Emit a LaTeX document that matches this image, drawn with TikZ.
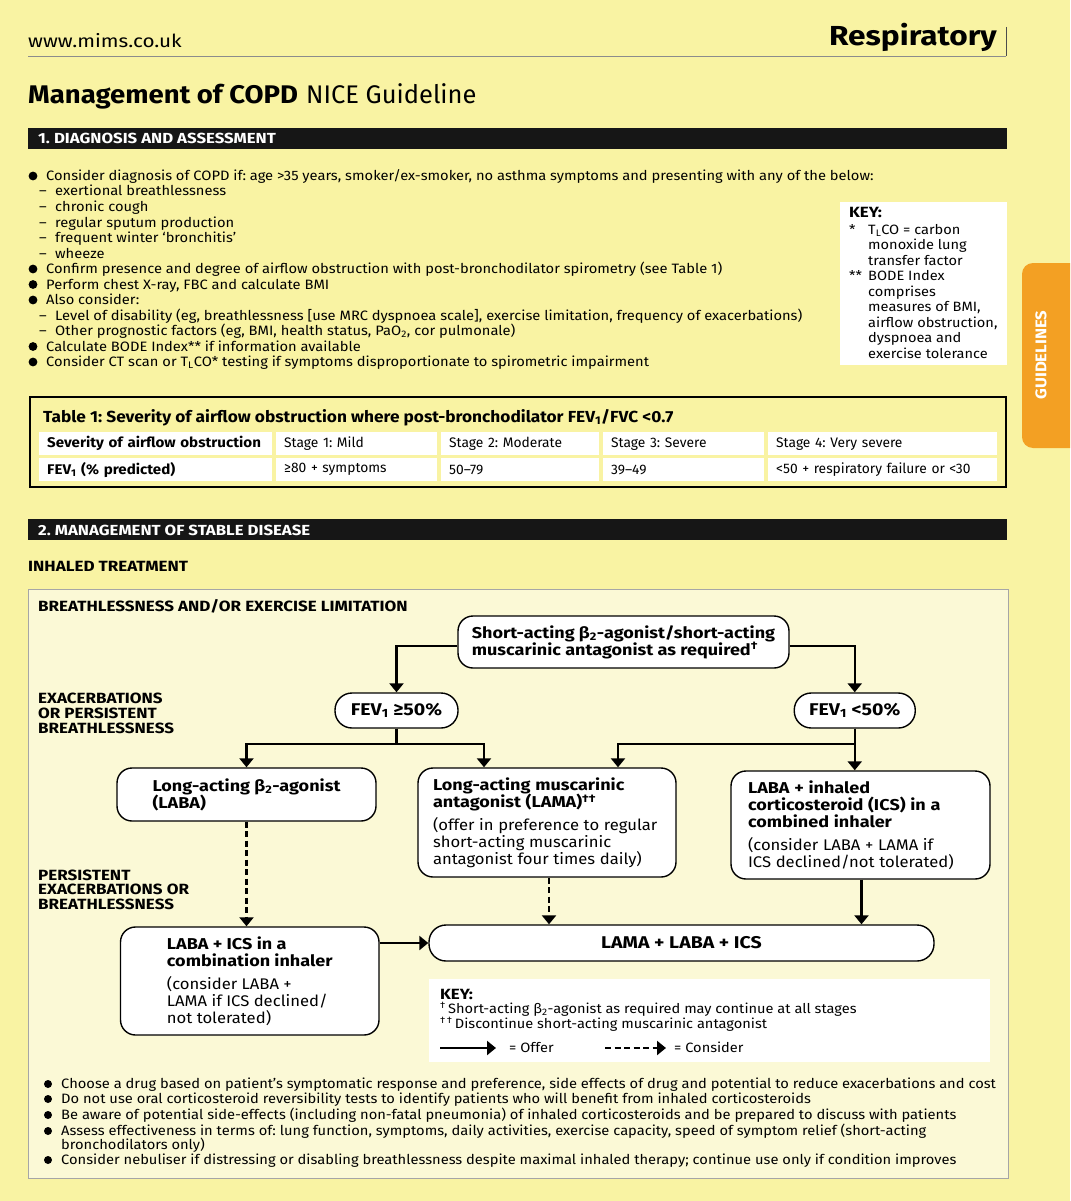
\documentclass[tikz,border=0pt]{standalone}
\usepackage{fontspec}
\setmainfont{Fira Sans}
\newfontfamily\fsA[FakeStretch=1.08]{Fira Sans}
\newfontfamily\fsB[FakeStretch=1.15]{Fira Sans}
\usetikzlibrary{arrows.meta}
\definecolor{pagebg}{RGB}{249,243,163}
\definecolor{innerbg}{RGB}{251,249,214}
\definecolor{tabor}{RGB}{243,160,35}
\definecolor{barblack}{RGB}{22,22,22}
\newcommand{\nbold}{\fsB\bfseries\fontsize{15.7}{17}\selectfont}
\newcommand{\nreg}{\fsA\mdseries\fontsize{15.4}{17}\selectfont}
\begin{document}
\frenchspacing
\begin{tikzpicture}[x=1pt,y=-1pt,
  body/.style={anchor=base west,inner sep=0pt,font=\fsA\fontsize{13.6}{15}\selectfont},
  small/.style={anchor=base west,inner sep=0pt,font=\fsA\fontsize{13.5}{15}\selectfont},
  bottomtxt/.style={anchor=base west,inner sep=0pt,font=\fsA\fontsize{13.6}{15}\selectfont},
  hdr/.style={anchor=base west,inner sep=0pt,font=\fsB\bfseries\fontsize{14.8}{15}\selectfont},
  bartxt/.style={anchor=base west,inner sep=0pt,text=white,font=\fsB\bfseries\fontsize{14.6}{15}\selectfont},
  fbox/.style={draw=black,line width=1.4pt,rounded corners=15pt,fill=white,inner sep=0pt,align=left,font=\fontsize{14}{17}\selectfont},
  pill/.style={fbox,rounded corners=17pt},
  cell/.style={fill=white,anchor=north west,minimum height=23pt,inner xsep=8pt,inner ysep=0pt,align=left,font=\fontsize{13.8}{15}\selectfont},
  boldcell/.style={cell,font=\fsA\bfseries\fontsize{14}{15}\selectfont},
  conn/.style={line width=2.4pt,-{Triangle[width=14pt,length=9pt]}},
  dconn/.style={conn,dash pattern=on 6pt off 3.5pt},
  bul/.style={fill=black}
]
\useasboundingbox (0,0) rectangle (1070,1201);
\fill[pagebg] (0,0) rectangle (1070,1201);

% header
\node[anchor=base west,inner sep=0pt,font=\fsB\fontsize{18}{20}\selectfont] (site) at (28,48) {www.mims.co.uk};
\node[anchor=base east,inner sep=0pt,font=\fsB\bfseries\fontsize{27.5}{30}\selectfont] (resp) at (997,46) {Respiratory};
\draw[black!70,line width=0.8pt] (1006,27) -- (1006,56);
\draw[black!45,line width=1pt] (28,57) -- (1006,57);
\node[anchor=base west,inner sep=0pt,font=\fontsize{25.5}{28}\selectfont] (title) at (28,104) {{\fsA\bfseries Management of COPD}\hspace{8pt}NICE Guideline};

% section 1 bar
\fill[barblack] (28,128) rectangle (1007,149);
\node[bartxt] (s1) at (38,144) {1. DIAGNOSIS AND ASSESSMENT};

% section 1 bullets
\foreach \yy in {176,269,284.5,300,346.5,362} \fill[bul] (33,\yy) circle (4.4pt);
\node[body] (l1) at (46,180.5) {Consider diagnosis of COPD if: age >35 years, smoker/ex-smoker, no asthma symptoms and presenting with any of the below:};
\node[body] (l2) at (39,196) {\makebox[16pt][l]{–}exertional breathlessness};
\node[body] (l3) at (39,211.5) {\makebox[16pt][l]{–}chronic cough};
\node[body] (l4) at (39,227) {\makebox[16pt][l]{–}regular sputum production};
\node[body] (l5) at (39,242.5) {\makebox[16pt][l]{–}frequent winter ‘bronchitis’};
\node[body] (l6) at (39,258) {\makebox[16pt][l]{–}wheeze};
\node[body] (l7) at (46,273.5) {Confirm presence and degree of airflow obstruction with post-bronchodilator spirometry (see Table 1)};
\node[body] (l8) at (46,289) {Perform chest X-ray, FBC and calculate BMI};
\node[body] (l9) at (46,304.5) {Also consider:};
\node[body] (l10) at (39,320) {\makebox[16pt][l]{–}Level of disability (eg, breathlessness [use MRC dyspnoea scale], exercise limitation, frequency of exacerbations)};
\node[body] (l11) at (39,335.5) {\makebox[16pt][l]{–}Other prognostic factors (eg, BMI, health status, PaO\textsubscript{2}, cor pulmonale)};
\node[body] (l12) at (46,351) {Calculate BODE Index** if information available};
\node[body] (l13) at (46,366.5) {Consider CT scan or T\textsubscript{L}CO* testing if symptoms disproportionate to spirometric impairment};

% key box (top right)
\fill[white] (840,202) rectangle (1007,365);
\node[hdr] (k0) at (849,217.5) {KEY:};
\node[small] (k1a) at (849,234) {*};
\node[small] (k1) at (868,234) {T\textsubscript{L}CO = carbon};
\node[small] (k2) at (868,249.5) {monoxide lung};
\node[small] (k3) at (868,265) {transfer factor};
\node[small] (k4a) at (849,280.5) {**};
\node[small] (k4) at (868,280.5) {BODE Index};
\node[small] (k5) at (868,296) {comprises};
\node[small] (k6) at (868,311.5) {measures of BMI,};
\node[small] (k7) at (868,327) {airflow obstruction,};
\node[small] (k8) at (868,342.5) {dyspnoea and};
\node[small] (k9) at (868,358) {exercise tolerance};

% guidelines tab
\begin{scope}
\clip (0,0) rectangle (1070,1201);
\fill[tabor,rounded corners=11pt] (1022,263) rectangle (1100,448);
\end{scope}
\node[rotate=90,text=white,inner sep=0pt,font=\fsA\bfseries\fontsize{15.5}{16}\selectfont] (tab) at (1041,355) {GUIDELINES};

% table 1
\draw[line width=2pt] (30,397) rectangle (1006,487);
\node[anchor=base west,inner sep=0pt,font=\fsA\bfseries\fontsize{16}{16}\selectfont] (ttitle) at (43,422) {Table 1: Severity of airflow obstruction where post-bronchodilator FEV\textsubscript{1}/FVC <0.7};
\node[boldcell,text width=217pt] (c11) at (39,432) {Severity of airflow obstruction};
\node[cell,text width=145pt] (c12) at (276,432) {Stage 1: Mild};
\node[cell,text width=142pt] (c13) at (441,432) {Stage 2: Moderate};
\node[cell,text width=145pt] (c14) at (603,432) {Stage 3: Severe};
\node[cell,text width=213pt] (c15) at (768,432) {Stage 4: Very severe};
\node[boldcell,text width=217pt] (c21) at (39,458) {FEV\textsubscript{1} (\% predicted)};
\node[cell,text width=145pt] (c22) at (276,458) {≥80 + symptoms};
\node[cell,text width=142pt] (c23) at (441,458) {50–79};
\node[cell,text width=145pt] (c24) at (603,458) {39–49};
\node[cell,text width=213pt] (c25) at (768,458) {<50 + respiratory failure or <30};

% section 2 bar
\fill[barblack] (28,519) rectangle (1007,540);
\node[bartxt] (s2) at (38,535) {2. MANAGEMENT OF STABLE DISEASE};
\node[hdr] (inh) at (28,571) {INHALED TREATMENT};

% flowchart frame
\draw[black!35,fill=innerbg,line width=0.8pt] (28,589) rectangle (1008,1178);
\node[hdr] (lb0) at (38,611.5) {BREATHLESSNESS AND/OR EXERCISE LIMITATION};
\node[hdr] (lb1) at (38,703) {EXACERBATIONS};
\node[hdr] (lb2) at (38,718) {OR PERSISTENT};
\node[hdr] (lb3) at (38,733) {BREATHLESSNESS};
\node[hdr] (lb4) at (38,880) {PERSISTENT};
\node[hdr] (lb5) at (38,894.5) {EXACERBATIONS OR};
\node[hdr] (lb6) at (38,909) {BREATHLESSNESS};

% flow nodes
\node[fbox,minimum width=331pt,minimum height=52pt] (sab) at (623.5,642)
  {\nbold Short-acting β\textsubscript{2}-agonist/short-acting\\ \nbold muscarinic antagonist as required\textsuperscript{†}};
\node[pill,minimum width=123pt,minimum height=35pt] (fevhi) at (396.5,710.5) {\fsB\bfseries\fontsize{17}{18}\selectfont FEV\textsubscript{1} ≥50\%};
\node[pill,minimum width=121pt,minimum height=35pt] (fevlo) at (854.75,710.5) {\fsB\bfseries\fontsize{17}{18}\selectfont FEV\textsubscript{1} <50\%};
\node[fbox,minimum width=259pt,minimum height=53pt] (laba) at (246.5,794.5)
  {\nbold Long-acting β\textsubscript{2}-agonist\\ \nbold (LABA)};
\node[fbox,minimum width=258pt,minimum height=109pt,text width=228pt] (lama) at (547,822.5)
  {\mbox{\nbold Long-acting muscarinic}\\ \mbox{\nbold antagonist (LAMA)\textsuperscript{††}}\\[6pt] \mbox{\nreg (offer in preference to regular}\\ \mbox{\nreg short-acting muscarinic}\\ \mbox{\nreg antagonist four times daily)}};
\node[fbox,minimum width=259pt,minimum height=108pt,text width=225pt] (labaics) at (860.5,825)
  {\mbox{\nbold LABA + inhaled}\\ \mbox{\nbold corticosteroid (ICS) in a}\\ \mbox{\nbold combined inhaler}\\[6pt] \mbox{\nreg (consider LABA + LAMA if}\\ \mbox{\nreg ICS declined/not tolerated)}};
\node[fbox,minimum width=258.5pt,minimum height=108pt] (combo) at (249.75,981)
  {\nbold LABA + ICS in a\\ \nbold combination inhaler\\[6pt] \nreg (consider LABA +\\ \nreg LAMA if ICS declined/\\ \nreg not tolerated)};
\node[pill,minimum width=505pt,minimum height=36pt,align=center] (triple) at (681.5,943) {\fsB\bfseries\fontsize{17}{18}\selectfont LAMA + LABA + ICS};

% connectors
\draw[conn] ([yshift=-4pt]sab.west) -| (fevhi.north);
\draw[conn] ([yshift=-4pt]sab.east) -| (fevlo.north);
\draw[conn] (fevhi.south) -- (fevhi.south |- 0,744) -| (laba.north);
\draw[conn] (fevhi.south) -- (fevhi.south |- 0,744) -| ([xshift=-63pt]lama.north);
\draw[conn] (fevlo.south) -- (fevlo.south |- 0,744) -| ([xshift=71pt]lama.north);
\draw[conn] (fevlo.south) -- (fevlo.south |- labaics.north);
\draw[dconn] (laba.south) -- (laba.south |- combo.north);
\draw[dconn] ([xshift=2pt]lama.south) -- ([xshift=2pt]lama.south |- triple.north);
\draw[conn] ([xshift=1pt]labaics.south) -- ([xshift=1pt]labaics.south |- triple.north);
\draw[conn] (combo.east |- triple.west) -- (triple.west);

% key box (flowchart)
\fill[white] (429,979) rectangle (990,1062);
\node[hdr] (kk0) at (440,999.5) {KEY:};
\node[small] (kk1) at (440,1013.5) {\textsuperscript{†}\,Short-acting β\textsubscript{2}-agonist as required may continue at all stages};
\node[small] (kk2) at (440,1028.5) {\textsuperscript{†\,†}\,Discontinue short-acting muscarinic antagonist};
\coordinate (ka1) at (440,1048);
\coordinate (ka2) at (496,1048);
\coordinate (kb1) at (605,1048);
\coordinate (kb2) at (666,1048);
\draw[conn] (ka1) -- (ka2);
\draw[dconn] (kb1) -- (kb2);
\node[small] (koffer) at (509,1052.5) {= Offer};
\node[small] (kcons) at (674,1052.5) {= Consider};

% bottom bullets
\foreach \yy in {1084,1099,1115,1131,1160} \fill[bul] (48,\yy) circle (4pt);
\node[bottomtxt] (b1) at (61,1088.5) {Choose a drug based on patient’s symptomatic response and preference, side effects of drug and potential to reduce exacerbations and cost};
\node[bottomtxt] (b2) at (61,1103.5) {Do not use oral corticosteroid reversibility tests to identify patients who will benefit from inhaled corticosteroids};
\node[bottomtxt] (b3) at (61,1119) {Be aware of potential side-effects (including non-fatal pneumonia) of inhaled corticosteroids and be prepared to discuss with patients};
\node[bottomtxt] (b4) at (61,1135) {Assess effectiveness in terms of: lung function, symptoms, daily activities, exercise capacity, speed of symptom relief (short-acting};
\node[bottomtxt] (b4b) at (61,1149.5) {bronchodilators only)};
\node[bottomtxt] (b5) at (61,1164.5) {Consider nebuliser if distressing or disabling breathlessness despite maximal inhaled therapy; continue use only if condition improves};
\end{tikzpicture}
\end{document}
